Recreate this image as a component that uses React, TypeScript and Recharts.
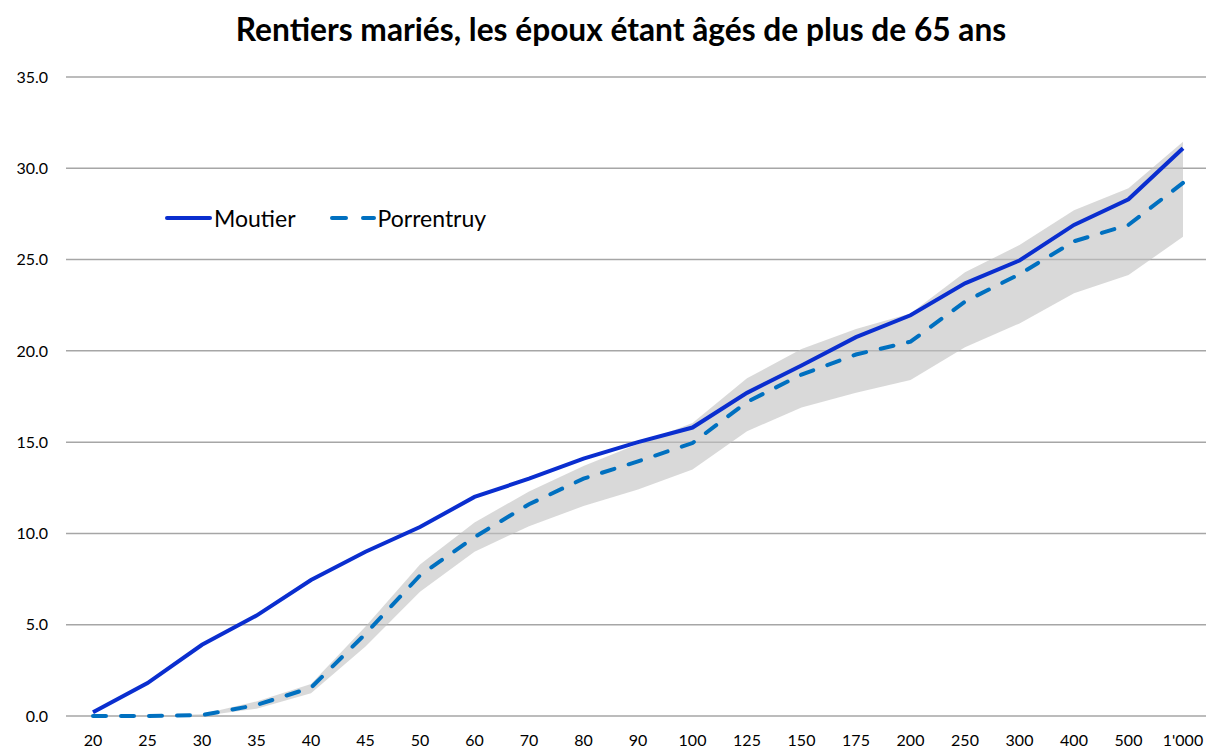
import React from 'react';
import { ComposedChart, Line, Area, XAxis, YAxis, CartesianGrid } from 'recharts';

const categories = ['20','25','30','35','40','45','50','60','70','80','90','100','125','150','175','200','250','300','400','500',"1'000"];
const moutier = [0.2,1.8,3.9,5.5,7.45,9.0,10.35,12.0,13.0,14.1,15.0,15.8,17.7,19.2,20.75,21.95,23.7,24.95,26.9,28.3,31.1];
const porrentruy = [0,0,0.05,0.6,1.55,4.5,7.7,9.8,11.6,13.0,13.95,14.95,17.2,18.7,19.8,20.5,22.7,24.2,26.0,26.9,29.2];
const bandLow = [0,0,0,0.4,1.25,3.8,6.8,9.0,10.4,11.5,12.4,13.5,15.6,16.9,17.7,18.4,20.2,21.5,23.15,24.15,26.25];
const bandHigh = [0,0,0.1,0.8,1.75,4.9,8.3,10.6,12.3,13.7,14.9,16.05,18.5,20.1,21.2,22.05,24.3,25.8,27.7,28.9,31.45];
const yTicks = [0,5,10,15,20,25,30,35];
const seriesNames = ['Moutier', 'Porrentruy'];

const data = categories.map((c, i) => ({
  cat: c,
  Moutier: moutier[i],
  Porrentruy: porrentruy[i],
  band: [bandLow[i], bandHigh[i]],
}));

const FONT = 'Lato, "Open Sans", sans-serif';

export default function App() {
  return (
    <div style={{ position: 'absolute', left: 0, top: 0, width: 1206, height: 751, overflow: 'hidden', background: '#fff' }}>
      <div style={{ position: 'absolute', left: 0, top: 10, width: 1242, textAlign: 'center', fontFamily: FONT, fontWeight: 700, fontSize: 31.7, color: '#000' }}>
        Rentiers mariés, les époux étant âgés de plus de 65 ans
      </div>
      <ComposedChart width={1212} height={751} data={data} margin={{ top: 77, right: 2, bottom: 0, left: 0 }}>
        <CartesianGrid vertical={false} stroke="#a6a6a6" strokeWidth={1.5} />
        <XAxis dataKey="cat" axisLine={false} tickLine={false} tickSize={0} tickMargin={19} height={35} interval={0}
          padding={{ left: 27, right: 27 }}
          tick={{ fontFamily: FONT, fontSize: 16, fill: '#000' }} />
        <YAxis domain={[0, 35]} ticks={yTicks} axisLine={false} tickLine={false} tickSize={0} tickMargin={18} width={66}
          tickFormatter={(v: number) => v.toFixed(1)} tick={{ fontFamily: FONT, fontSize: 16, fill: '#000' }} />
        <Area dataKey="band" type="linear" fill="#bfbfbf" fillOpacity={0.6} stroke="none" isAnimationActive={false} legendType="none" />
        <Line dataKey="Moutier" type="linear" stroke="#0a2ecf" strokeWidth={4} dot={false} isAnimationActive={false} />
        <Line dataKey="Porrentruy" type="linear" stroke="#0070c0" strokeWidth={4} strokeDasharray="13 15" strokeLinecap="round" dot={false} isAnimationActive={false} />
      </ComposedChart>
      <div style={{ position: 'absolute', left: 164, top: 204, display: 'flex', alignItems: 'center', fontFamily: FONT, fontSize: 23, color: '#000' }}>
        <svg width={48} height={10}><line x1={3} y1={5} x2={46} y2={5} stroke="#0a2ecf" strokeWidth={4} strokeLinecap="round" /></svg>
        <span style={{ marginLeft: 2 }}>{seriesNames[0]}</span>
        <svg width={48} height={10} style={{ marginLeft: 32 }}><line x1={4} y1={5} x2={46} y2={5} stroke="#0070c0" strokeWidth={4} strokeLinecap="round" strokeDasharray="14 17" /></svg>
        <span style={{ marginLeft: 2 }}>{seriesNames[1]}</span>
      </div>
    </div>
  );
}
